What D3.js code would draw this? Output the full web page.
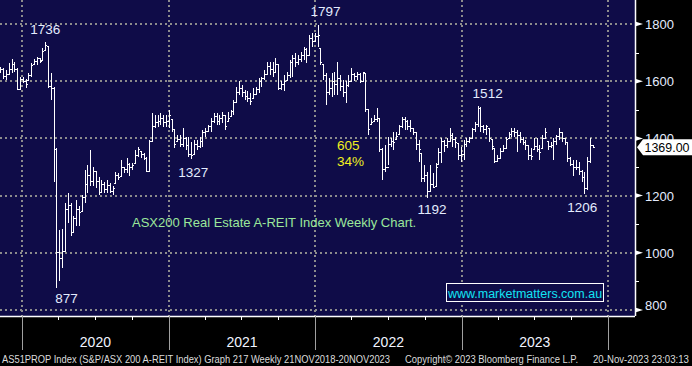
<!DOCTYPE html>
<html>
<head>
<meta charset="utf-8">
<script src="https://cdn.jsdelivr.net/npm/d3@7/dist/d3.min.js"></script>
<style>
body { margin: 0; background: #000; }
svg { display: block; font-family: "Liberation Sans", Arial, sans-serif; }
</style>
</head>
<body>
<div id="chart"></div>
<script>
'use strict';

// weekly bars, first bar dated Fri 8 Nov 2019
var firstWeek = new Date(2019, 10, 8);

var barOpen = [
	1645,1640,1615,1625,1640,1660,1640,1572,1605,1600,1604,1620,1657,1668,1680,1674,1709,1721,1580,1575,
	1360,1000,980,1005,1150,1165,1070,1120,1150,1144,1195,1240,1270,1250,1284,1250,1210,1240,1220,1235,
	1215,1243,1270,1267,1300,1290,1310,1300,1313,1340,1354,1345,1330,1285,1390,1440,1455,1460,1470,1455,
	1460,1465,1430,1389,1395,1380,1400,1375,1345,1342,1380,1370,1390,1420,1425,1440,1460,1475,1460,1470,
	1480,1459,1476,1495,1525,1560,1575,1560,1545,1540,1540,1555,1570,1600,1610,1625,1650,1640,1630,1660,
	1575,1590,1604,1620,1665,1680,1665,1675,1690,1710,1690,1750,1740,1755,1715,1657,1620,1560,1575,1600,
	1590,1610,1580,1560,1585,1600,1625,1615,1625,1600,1628,1500,1447,1459,1465,1470,1360,1290,1300,1380,
	1390,1395,1412,1440,1465,1460,1440,1435,1420,1380,1348,1260,1270,1215,1240,1232,1307,1350,1390,1375,
	1390,1410,1395,1383,1340,1345,1380,1390,1401,1430,1450,1505,1440,1430,1435,1395,1366,1320,1330,1355,
	1366,1401,1415,1425,1420,1410,1395,1385,1375,1340,1360,1370,1360,1366,1401,1389,1370,1375,1390,1405,
	1420,1400,1385,1330,1310,1300,1300,1285,1265,1225,1320,1375
];
var barHigh = [
	1651,1645,1639,1663,1676,1668,1645,1616,1616,1607,1628,1663,1676,1686,1680,1715,1736,1721,1628,1579,
	1366,1080,1083,1173,1208,1173,1127,1185,1162,1202,1290,1307,1360,1301,1284,1266,1255,1249,1255,1243,
	1232,1284,1278,1325,1301,1331,1313,1313,1360,1371,1354,1348,1336,1395,1488,1482,1482,1488,1482,1482,
	1500,1465,1430,1412,1412,1435,1406,1406,1389,1395,1395,1406,1430,1435,1447,1470,1488,1488,1482,1494,
	1482,1494,1500,1534,1581,1599,1587,1569,1564,1558,1575,1581,1610,1616,1639,1668,1668,1668,1680,1660,
	1599,1622,1633,1674,1692,1697,1692,1703,1721,1715,1762,1767,1767,1797,1715,1657,1628,1610,1628,1633,
	1668,1622,1604,1599,1622,1645,1628,1633,1628,1633,1628,1500,1470,1482,1505,1470,1366,1377,1406,1400,
	1424,1424,1447,1476,1476,1465,1465,1435,1424,1395,1348,1307,1284,1307,1278,1313,1366,1400,1395,1400,
	1435,1418,1406,1383,1371,1395,1400,1406,1435,1459,1512,1511,1447,1447,1435,1395,1366,1342,1366,1377,
	1406,1424,1435,1435,1430,1424,1406,1395,1377,1366,1401,1401,1377,1412,1435,1389,1389,1401,1412,1435,
	1424,1401,1389,1336,1325,1325,1319,1290,1284,1336,1401,1377
];
var barLow = [
	1628,1607,1604,1622,1628,1633,1569,1572,1593,1575,1604,1616,1657,1657,1663,1674,1709,1575,1534,1246,
	877,900,946,1004,1103,1057,1069,1092,1092,1144,1173,1208,1232,1232,1226,1202,1208,1208,1208,1208,
	1202,1243,1255,1267,1278,1278,1267,1290,1313,1336,1331,1325,1284,1284,1389,1435,1441,1447,1441,1441,
	1435,1424,1366,1389,1371,1371,1360,1336,1327,1342,1360,1366,1371,1406,1424,1424,1453,1447,1447,1453,
	1430,1459,1476,1482,1525,1552,1546,1534,1529,1517,1540,1552,1558,1581,1604,1622,1622,1616,1628,1569,
	1569,1564,1604,1610,1616,1651,1657,1668,1674,1663,1690,1721,1738,1721,1657,1604,1517,1552,1546,1552,
	1552,1564,1546,1523,1581,1599,1599,1604,1593,1599,1494,1412,1447,1459,1459,1354,1255,1284,1307,1371,
	1360,1395,1412,1435,1430,1430,1424,1412,1360,1319,1249,1249,1192,1214,1226,1232,1307,1313,1354,1366,
	1389,1371,1366,1325,1319,1325,1370,1383,1401,1424,1441,1424,1418,1412,1389,1360,1313,1319,1331,1354,
	1366,1401,1406,1406,1354,1383,1377,1360,1325,1325,1360,1354,1325,1366,1401,1360,1366,1325,1377,1395,
	1389,1377,1319,1302,1267,1290,1272,1249,1206,1220,1313,1366
];
var barClose = [
	1640,1615,1625,1640,1660,1640,1572,1605,1600,1590,1620,1655,1668,1680,1670,1705,1725,1580,1575,1360,
	1000,980,1005,1150,1165,1070,1120,1150,1140,1195,1240,1270,1250,1285,1250,1210,1240,1220,1235,1215,
	1225,1270,1265,1300,1290,1310,1300,1305,1340,1360,1345,1330,1285,1390,1440,1455,1460,1470,1455,1460,
	1480,1430,1380,1395,1380,1400,1375,1345,1340,1380,1370,1390,1420,1425,1440,1460,1475,1460,1470,1480,
	1440,1470,1495,1525,1560,1575,1560,1545,1540,1530,1555,1570,1600,1610,1625,1650,1640,1630,1660,1575,
	1590,1600,1620,1665,1680,1665,1675,1690,1710,1690,1750,1740,1755,1760,1665,1620,1560,1575,1600,1590,
	1610,1580,1560,1585,1600,1625,1615,1625,1600,1630,1500,1430,1455,1465,1470,1360,1290,1300,1380,1390,
	1385,1405,1440,1465,1460,1440,1435,1420,1380,1360,1260,1270,1215,1240,1230,1300,1350,1390,1375,1390,
	1410,1395,1385,1340,1345,1380,1390,1400,1430,1450,1505,1440,1430,1440,1400,1370,1320,1330,1355,1365,
	1395,1415,1425,1420,1410,1395,1385,1375,1340,1335,1370,1360,1350,1400,1420,1370,1375,1390,1405,1420,
	1400,1385,1330,1310,1300,1300,1285,1265,1225,1320,1375,1369
];

var yMajor = [800, 1000, 1200, 1400, 1600, 1800];
var yMinor = [900, 1100, 1300, 1500, 1700];
var yearStarts = [new Date(2020,0,1), new Date(2021,0,1), new Date(2022,0,1), new Date(2023,0,1), new Date(2024,0,1)];
var yearLabels = ["2020", "2021", "2022", "2023"];

var annotText = ["1736", "1797", "1512", "1327", "877", "1192", "1206"];
var annotBar  = [16, 113, 170, 68, 20, 152, 208];
var dropText = ["605", "34%"];
var titleText = "ASX200 Real Estate A-REIT Index Weekly Chart.";
var siteText = "www.marketmatters.com.au";
var footerText = [
	"AS51PROP Index (S&P/ASX 200 A-REIT Index) Graph 217  Weekly 21NOV2018-20NOV2023",
	"Copyright\u00A9 2023 Bloomberg Finance L.P.",
	"20-Nov-2023 23:03:13"
];

var W = 692, H = 366;
var plotR = 635, plotB = 316;

var weeks = barClose.map(function(d, i) { return d3.timeDay.offset(firstWeek, 7 * i); });

var x = d3.scaleTime().domain([yearStarts[0], yearStarts[4]]).range([22, 608]);
var y = d3.scaleLinear().domain([800, 1800]).range([310, 24]);

var svg = d3.select("#chart").append("svg")
	.attr("width", W)
	.attr("height", H);

svg.append("rect").attr("width", W).attr("height", H).attr("fill", "#000");
svg.append("rect").attr("x", 0).attr("y", 0)
	.attr("width", plotR).attr("height", plotB)
	.attr("fill", "#0f0c48");

// dotted grid
var grid = svg.append("g")
	.attr("stroke", "#8c8c8c")
	.attr("stroke-width", 2)
	.attr("stroke-dasharray", "2,3");
grid.selectAll("line.h").data(yMajor).enter().append("line")
	.attr("x1", 0).attr("x2", plotR)
	.attr("y1", function(d) { return Math.round(y(d)); })
	.attr("y2", function(d) { return Math.round(y(d)); });
grid.selectAll("line.v").data(yearStarts).enter().append("line")
	.attr("x1", function(d) { return Math.round(x(d)); })
	.attr("x2", function(d) { return Math.round(x(d)); })
	.attr("y1", 0).attr("y2", plotB);

// OHLC bars
var bars = svg.append("g")
	.attr("stroke", "#fff")
	.attr("stroke-width", 1)
	.attr("fill", "none")
	.attr("shape-rendering", "crispEdges");
bars.selectAll("path").data(barClose).enter().append("path")
	.attr("d", function(d, i) {
		var bx = Math.round(x(weeks[i])) + 0.5;
		return "M" + bx + "," + y(barHigh[i]) + "V" + y(barLow[i])
			+ "M" + (bx - 1.5) + "," + y(barOpen[i]) + "H" + bx
			+ "M" + bx + "," + y(d) + "H" + (bx + 1.5);
	});

// swing labels
var annotDx = [0, 8, 10, 2, 10, 5, -2];
var annotDy = [-8, -9, -8, 18, 15, 16, 18];
svg.selectAll("text.swing").data(annotText).enter().append("text")
	.attr("class", "swing")
	.attr("x", function(d, i) { return x(weeks[annotBar[i]]) + annotDx[i]; })
	.attr("y", function(d, i) {
		var v = annotDy[i] < 0 ? barHigh[annotBar[i]] : barLow[annotBar[i]];
		return y(v) + annotDy[i];
	})
	.attr("text-anchor", "middle")
	.attr("font-size", 13.5)
	.attr("fill", "#e4ecff")
	.text(function(d) { return d; });

svg.selectAll("text.drop").data(dropText).enter().append("text")
	.attr("x", 337)
	.attr("y", function(d, i) { return 150 + i * 16; })
	.attr("font-size", 13.5)
	.attr("fill", "#f2f020")
	.text(function(d) { return d; });

svg.append("text")
	.attr("x", 132).attr("y", 227)
	.attr("font-size", 13)
	.attr("fill", "#9be89b")
	.text(titleText);

svg.append("rect")
	.attr("x", 446.5).attr("y", 283.5)
	.attr("width", 157).attr("height", 18)
	.attr("fill", "#0f0c48")
	.attr("stroke", "#fff").attr("stroke-width", 1);
svg.append("text")
	.attr("x", 525).attr("y", 297.5)
	.attr("text-anchor", "middle")
	.attr("font-size", 12.5)
	.attr("fill", "#12e4f4")
	.text(siteText);

// right axis
svg.append("line")
	.attr("x1", plotR + 0.5).attr("x2", plotR + 0.5)
	.attr("y1", 0).attr("y2", plotB)
	.attr("stroke", "#fff").attr("stroke-width", 1.5);
svg.selectAll("line.minor").data(yMinor).enter().append("line")
	.attr("x1", plotR).attr("x2", plotR + 4)
	.attr("y1", function(d) { return Math.round(y(d)) + 0.5; })
	.attr("y2", function(d) { return Math.round(y(d)) + 0.5; })
	.attr("stroke", "#fff");
svg.selectAll("path.major").data(yMajor).enter().append("path")
	.attr("d", function(d) {
		var ty = y(d);
		return "M" + plotR + "," + (ty - 2.5) + "L" + (plotR + 8) + "," + ty + "L" + plotR + "," + (ty + 2.5) + "Z";
	})
	.attr("fill", "#fff");
svg.selectAll("text.ylab").data(yMajor).enter().append("text")
	.attr("x", 645)
	.attr("y", function(d) { return Math.min(y(d), 305) + 5; })
	.attr("font-size", 13)
	.attr("fill", "#e4ecff")
	.text(function(d) { return d; });

// last price flag, drawn over the axis label as in the terminal
var lastY = y(barClose[barClose.length - 1]);
svg.append("path")
	.attr("d", "M637," + lastY + "L643," + (lastY - 8) + "H692V" + (lastY + 8) + "H643Z")
	.attr("fill", "#fff");
svg.append("text")
	.attr("x", 644.5).attr("y", lastY + 5)
	.attr("font-size", 13)
	.attr("textLength", 45)
	.attr("lengthAdjust", "spacingAndGlyphs")
	.attr("fill", "#000")
	.text(barClose[barClose.length - 1].toFixed(2));

// bottom time axis
svg.append("line")
	.attr("x1", 0).attr("x2", plotR)
	.attr("y1", plotB + 0.5).attr("y2", plotB + 0.5)
	.attr("stroke", "#fff").attr("stroke-width", 1.5);
var quarters = d3.timeMonth.every(3).range(new Date(2019, 9, 1), new Date(2024, 0, 1));
svg.selectAll("line.q").data(quarters).enter().append("line")
	.attr("x1", function(d) { return Math.round(x(d)) + 0.5; })
	.attr("x2", function(d) { return Math.round(x(d)) + 0.5; })
	.attr("y1", plotB).attr("y2", plotB + 4)
	.attr("stroke", "#fff");
svg.selectAll("line.yr").data(yearStarts).enter().append("line")
	.attr("x1", function(d) { return Math.round(x(d)) + 0.5; })
	.attr("x2", function(d) { return Math.round(x(d)) + 0.5; })
	.attr("y1", plotB).attr("y2", 350)
	.attr("stroke", "#a0a0a0");
svg.selectAll("text.year").data(yearLabels).enter().append("text")
	.attr("x", function(d, i) { return (x(yearStarts[i]) + x(yearStarts[i + 1])) / 2; })
	.attr("y", 347)
	.attr("text-anchor", "middle")
	.attr("font-size", 14)
	.attr("fill", "#f0f4ff")
	.text(function(d) { return d; });

var footX = [2, 405, 593];
var footW = [388, 173, 96];
svg.selectAll("text.foot").data(footerText).enter().append("text")
	.attr("x", function(d, i) { return footX[i]; })
	.attr("y", 363)
	.attr("font-size", 10)
	.attr("fill", "#dcdcdc")
	.attr("textLength", function(d, i) { return footW[i]; })
	.attr("lengthAdjust", "spacingAndGlyphs")
	.text(function(d) { return d; });
</script>
</body>
</html>
